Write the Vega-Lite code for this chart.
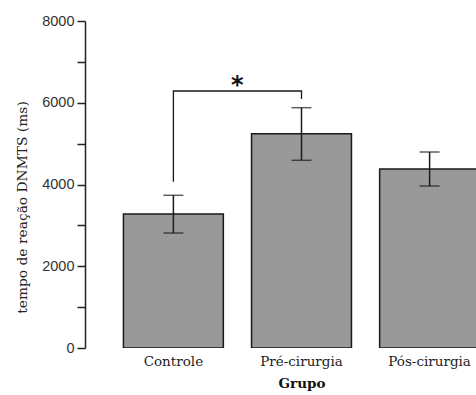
{
  "$schema": "https://vega.github.io/schema/vega-lite/v6.json",
  "autosize": "none",
  "width": 391,
  "height": 327,
  "padding": {"left": 85, "top": 21, "right": 0, "bottom": 47},
  "background": "white",
  "config": {"view": {"stroke": null}},
  "datasets": {
    "bars": [
      {"grupo": "Controle", "media": 3280, "lo": 2813, "hi": 3736},
      {"grupo": "Pré-cirurgia", "media": 5240, "lo": 4592, "hi": 5879},
      {"grupo": "Pós-cirurgia", "media": 4380, "lo": 3963, "hi": 4795}
    ],
    "bracket": [
      {"grupo": "Controle", "v": 4068, "ordem": 1},
      {"grupo": "Controle", "v": 6287, "ordem": 2},
      {"grupo": "Pré-cirurgia", "v": 6287, "ordem": 3},
      {"grupo": "Pré-cirurgia", "v": 6092, "ordem": 4}
    ],
    "star": [{"grupo": "Controle", "v": 6420, "t": "*"}]
  },
  "layer": [
    {
      "data": {"name": "bars"},
      "mark": {"type": "bar", "color": "#999999", "stroke": "#1a1a1a", "strokeWidth": 1.5, "clip": true},
      "encoding": {
        "x": {
          "field": "grupo", "type": "nominal", "sort": null,
          "scale": {"domain": ["Controle", "Pré-cirurgia", "Pós-cirurgia"], "range": [0, 433], "paddingInner": 0.22, "paddingOuter": 0.3},
          "axis": {"title": "Grupo", "titleFont": "DejaVu Serif", "titleFontWeight": "bold", "titleFontSize": 13.5, "titleColor": "#111", "titlePadding": 9,
                   "labelAngle": 0, "labelFont": "DejaVu Serif", "labelFontSize": 13.5, "labelColor": "#222", "labelPadding": 6,
                   "domain": false, "ticks": false}
        },
        "y": {
          "field": "media", "type": "quantitative",
          "scale": {"domain": [0, 8000], "nice": false},
          "axis": {"title": "tempo de reação DNMTS (ms)", "titleFont": "DejaVu Serif", "titleFontWeight": "normal", "titleFontSize": 13.8, "titleColor": "#222",
                   "titleY": 186, "titlePadding": 12,
                   "values": [0, 1000, 2000, 3000, 4000, 5000, 6000, 7000, 8000],
                   "labelExpr": "datum.value % 2000 === 0 ? datum.value : ''",
                   "labelFont": "Liberation Sans", "labelFontSize": 14.5, "labelColor": "#333", "labelPadding": 3,
                   "grid": false, "domainColor": "#222", "domainWidth": 1.5, "tickColor": "#222", "tickWidth": 1.5, "tickSize": 8}
        }
      }
    },
    {
      "data": {"name": "bars"},
      "mark": {"type": "rule", "color": "#1a1a1a", "strokeWidth": 1.5},
      "encoding": {
        "x": {"field": "grupo", "type": "nominal", "sort": null},
        "y": {"field": "lo", "type": "quantitative"},
        "y2": {"field": "hi"}
      }
    },
    {
      "data": {"name": "bars"},
      "mark": {"type": "tick", "color": "#1a1a1a", "thickness": 1.5, "size": 20},
      "encoding": {
        "x": {"field": "grupo", "type": "nominal", "sort": null},
        "y": {"field": "lo", "type": "quantitative"}
      }
    },
    {
      "data": {"name": "bars"},
      "mark": {"type": "tick", "color": "#1a1a1a", "thickness": 1.5, "size": 20},
      "encoding": {
        "x": {"field": "grupo", "type": "nominal", "sort": null},
        "y": {"field": "hi", "type": "quantitative"}
      }
    },
    {
      "data": {"name": "bracket"},
      "mark": {"type": "line", "color": "#1a1a1a", "strokeWidth": 1.3},
      "encoding": {
        "x": {"field": "grupo", "type": "nominal", "sort": null},
        "y": {"field": "v", "type": "quantitative"},
        "order": {"field": "ordem", "type": "quantitative"}
      }
    },
    {
      "data": {"name": "star"},
      "mark": {"type": "text", "dx": 64, "fontSize": 24, "fontWeight": "bold", "font": "DejaVu Sans", "color": "#111", "baseline": "middle"},
      "encoding": {
        "x": {"field": "grupo", "type": "nominal", "sort": null},
        "y": {"field": "v", "type": "quantitative"},
        "text": {"field": "t"}
      }
    }
  ]
}
